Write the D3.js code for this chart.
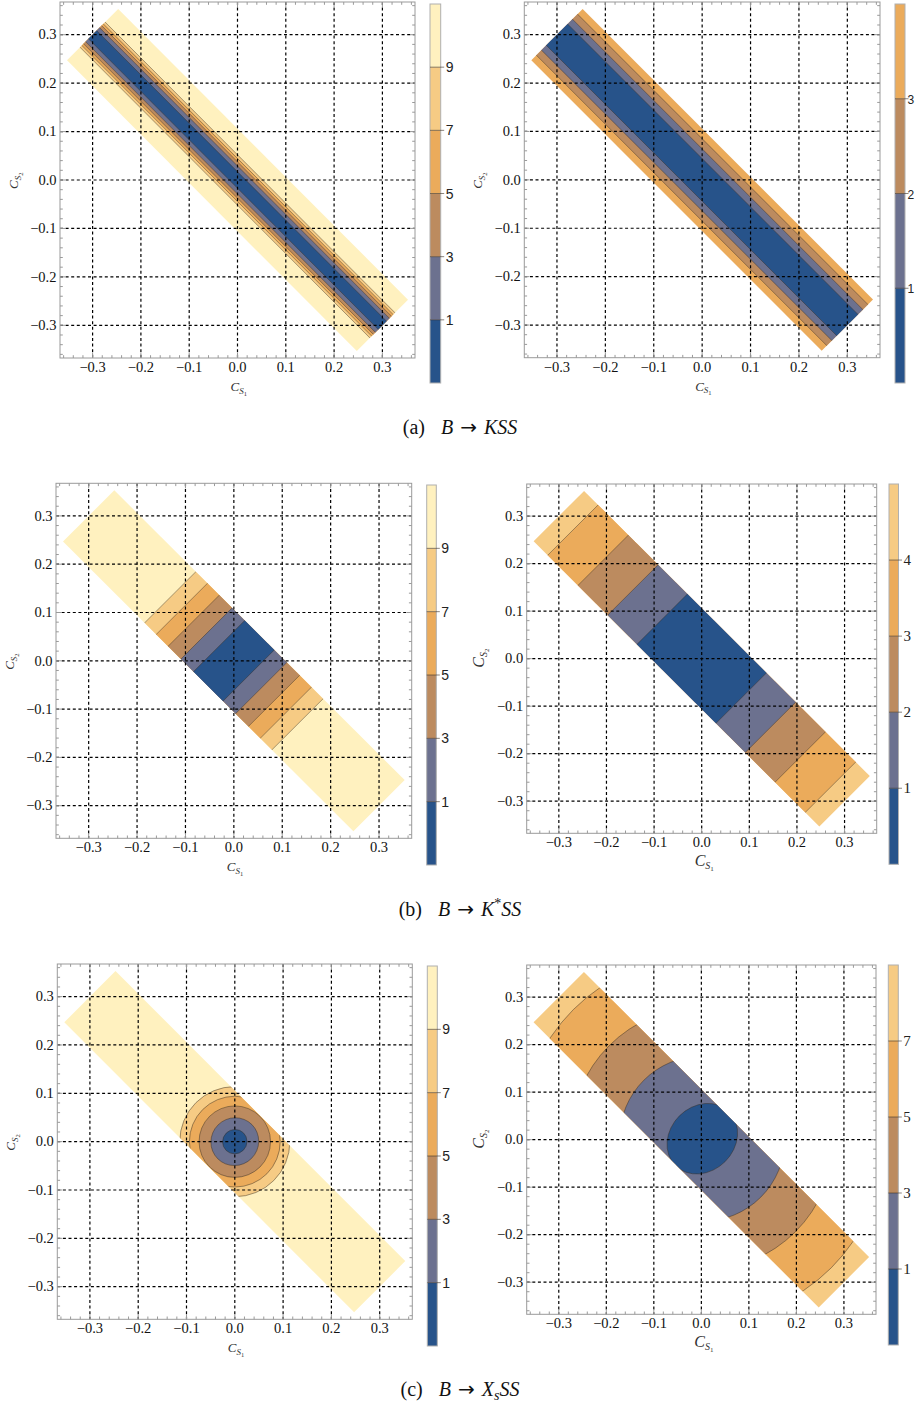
<!DOCTYPE html>
<html><head><meta charset="utf-8">
<script src="https://cdn.jsdelivr.net/npm/d3@7"></script>
<style>body{margin:0;background:#fff}</style>
</head><body>
<svg id="chart" width="915" height="1409" xmlns="http://www.w3.org/2000/svg"></svg>
<script>
// ---------- data ----------
const palette = ["#27538a", "#6c718f", "#bc8b5f", "#ebab5b", "#f6cb84", "#fff1bf"];
const gridTicks = [-0.3, -0.2, -0.1, 0.0, 0.1, 0.2, 0.3];
const tickLabels = ["\u22120.3", "\u22120.2", "\u22120.1", "0.0", "0.1", "0.2", "0.3"];
const domainHalf = 0.3675;
// allowed band: |C_S1 + C_S2| <= bandS, |C_S1 - C_S2| <= bandT
const bandS = 0.106;
const bandT = 0.6;

// (a) B -> KSS : contours are straight lines at |C_S1 + C_S2| = value
const levelsA1 = [1, 3, 5, 7, 9];
const sA1 = [0.017, 0.029, 0.0375, 0.0445, 0.052];
const levelsA2 = [1, 2, 3];
const sA2 = [0.044, 0.064, 0.085];
// (b) B -> K*SS : contours at |C_S1 - C_S2| = value
const levelsB1 = [1, 3, 5, 7, 9];
const tB1 = [0.061, 0.113, 0.166, 0.215, 0.263];
const levelsB2 = [1, 2, 3, 4];
const tB2 = [0.166, 0.289, 0.414, 0.541];
// (c) B -> XsSS : elliptic contours; semi-axes along C_S1=C_S2 (a) and C_S1=-C_S2 (b)
const levelsC1 = [1, 3, 5, 7, 9];
const aC1 = [0.0255, 0.050, 0.074, 0.094, 0.114];
const bC1 = [0.0250, 0.049, 0.074, 0.094, 0.114];
const centerC1 = [0.0, 0.0];
const levelsC2 = [1, 3, 5, 7];
const aC2 = [0.080, 0.174, 0.277, 0.384];
const bC2 = [0.068, 0.174, 0.277, 0.384];
const centerC2 = [0.002, 0.002];

const captionLabels = ["(a)", "(b)", "(c)"];
const captionParticle = ["K", "K", "X"];   // meson symbol
const captionMark = ["", "*", "s"];        // superscript / subscript on it

// ---------- layout ----------
const panels = [
  {frame: [60, 415, 2, 358], bar: [430, 440.7, 4, 383], kind: "s", levels: levelsA1, pos: sA1, barSerif: false, big: false, barFont: 14, labDx: 5},
  {frame: [524.3, 880, 2, 357.7], bar: [895, 905, 4, 383], kind: "s", levels: levelsA2, pos: sA2, barSerif: false, big: false, barFont: 12, labDx: 2.5},
  {frame: [56, 411.7, 483.3, 838.3], bar: [426.7, 436.3, 485, 865], kind: "t", levels: levelsB1, pos: tB1, barSerif: false, big: false, barFont: 14, labDx: 5},
  {frame: [526.7, 876.7, 484, 833.3], bar: [889, 898.5, 484, 864.3], kind: "t", levels: levelsB2, pos: tB2, barSerif: true, big: true, barFont: 15, labDx: 5},
  {frame: [57.3, 412.3, 964, 1319.3], bar: [427.3, 437.3, 966, 1346], kind: "e", levels: levelsC1, a: aC1, b: bC1, c: centerC1, barSerif: false, big: false, barFont: 14, labDx: 5},
  {frame: [526.7, 876, 965, 1314.3], bar: [888.3, 898.3, 965, 1345], kind: "e", levels: levelsC2, a: aC2, b: bC2, c: centerC2, barSerif: true, big: true, barFont: 15, labDx: 5}
];
const captionY = [434, 916, 1396];

const svg = d3.select("#chart");
const defs = svg.append("defs");
const SERIF = "'Liberation Serif', 'DejaVu Serif', serif";
const SANS = "'Liberation Sans', Arial, sans-serif";
const lineColor = "rgba(55,45,35,0.55)";

function cLabel(t, sub, big) {
  const f1 = big ? 16 : 13, f2 = big ? 10 : 9, f3 = big ? 7 : 6.5;
  t.append("tspan").attr("font-style", "italic").attr("font-size", f1).text("C");
  t.append("tspan").attr("font-style", "italic").attr("font-size", f2).attr("dy", big ? 3 : 2.5).text("S");
  t.append("tspan").attr("font-size", f3).attr("dy", 2).text(sub);
}

panels.forEach((p, i) => {
  const g = svg.append("g");
  const [fx0, fx1, fy0, fy1] = p.frame;
  const x = d3.scaleLinear().domain([-domainHalf, domainHalf]).range([fx0, fx1]);
  const y = d3.scaleLinear().domain([-domainHalf, domainHalf]).range([fy1, fy0]);
  const P = (s, t) => [x((s + t) / 2), y((s - t) / 2)];
  const pts = arr => arr.map(d => d.join(",")).join(" ");
  const band = [P(bandS, -bandT), P(bandS, bandT), P(-bandS, bandT), P(-bandS, -bandT)];
  defs.append("clipPath").attr("id", "band" + i).append("polygon").attr("points", pts(band));
  const n = p.levels.length;
  g.append("polygon").attr("points", pts(band)).attr("fill", palette[n]);
  const cg = g.append("g").attr("clip-path", `url(#band${i})`);
  const kpx = x(1) - x(0);
  for (let k = n - 1; k >= 0; k--) {
    if (p.kind === "s") {
      const r = p.pos[k];
      cg.append("polygon").attr("points", pts([P(r, -1), P(r, 1), P(-r, 1), P(-r, -1)])).attr("fill", palette[k]);
    } else if (p.kind === "t") {
      const r = p.pos[k];
      cg.append("polygon").attr("points", pts([P(-1, r), P(1, r), P(1, -r), P(-1, -r)])).attr("fill", palette[k]);
    } else {
      cg.append("ellipse").attr("transform", `translate(${x(p.c[0])},${y(p.c[1])}) rotate(-45)`)
        .attr("rx", p.a[k] * kpx).attr("ry", p.b[k] * kpx).attr("fill", palette[k]);
    }
  }
  // contour lines
  for (let k = 0; k < n; k++) {
    if (p.kind === "s" || p.kind === "t") {
      const r = p.pos[k];
      [r, -r].forEach(v => {
        const a = p.kind === "s" ? P(v, -1) : P(-1, v);
        const b = p.kind === "s" ? P(v, 1) : P(1, v);
        cg.append("line").attr("x1", a[0]).attr("y1", a[1]).attr("x2", b[0]).attr("y2", b[1])
          .attr("stroke", lineColor).attr("stroke-width", 0.8);
      });
    } else {
      cg.append("ellipse").attr("transform", `translate(${x(p.c[0])},${y(p.c[1])}) rotate(-45)`)
        .attr("rx", p.a[k] * kpx).attr("ry", p.b[k] * kpx).attr("fill", "none")
        .attr("stroke", lineColor).attr("stroke-width", 0.8);
    }
  }
  // grid
  gridTicks.forEach(v => {
    g.append("line").attr("x1", x(v)).attr("x2", x(v)).attr("y1", fy0).attr("y2", fy1)
      .attr("stroke", "#000").attr("stroke-width", 1.2).attr("stroke-dasharray", "3,2.6");
    g.append("line").attr("y1", y(v)).attr("y2", y(v)).attr("x1", fx0).attr("x2", fx1)
      .attr("stroke", "#000").attr("stroke-width", 1.2).attr("stroke-dasharray", "3,2.6");
  });
  // frame and ticks
  const tickCol = "#9a9a9a";
  g.append("rect").attr("x", fx0).attr("y", fy0).attr("width", fx1 - fx0).attr("height", fy1 - fy0)
    .attr("fill", "none").attr("stroke", tickCol).attr("stroke-width", 1);
  const minor = d3.range(-36, 37, 2).map(v => v / 100);
  minor.forEach(v => {
    const major = Math.abs(Math.round(v * 100) % 10) === 0;
    const L = major ? 5 : 2.8;
    g.append("line").attr("x1", x(v)).attr("x2", x(v)).attr("y1", fy1).attr("y2", fy1 - L).attr("stroke", tickCol);
    g.append("line").attr("x1", x(v)).attr("x2", x(v)).attr("y1", fy0).attr("y2", fy0 + L).attr("stroke", tickCol);
    g.append("line").attr("y1", y(v)).attr("y2", y(v)).attr("x1", fx0).attr("x2", fx0 + L).attr("stroke", tickCol);
    g.append("line").attr("y1", y(v)).attr("y2", y(v)).attr("x1", fx1).attr("x2", fx1 - L).attr("stroke", tickCol);
  });
  // tick labels
  gridTicks.forEach((v, j) => {
    g.append("text").attr("x", x(v)).attr("y", fy1 + 14).attr("text-anchor", "middle")
      .attr("font-family", SERIF).attr("font-size", 14.5).attr("fill", "#111").text(tickLabels[j]);
    g.append("text").attr("x", fx0 - 3.5).attr("y", y(v) + 4.8).attr("text-anchor", "end")
      .attr("font-family", SERIF).attr("font-size", 14.5).attr("fill", "#111").text(tickLabels[j]);
  });
  // axis labels
  const xl = g.append("text").attr("x", (fx0 + fx1) / 2 - 7).attr("y", fy1 + 33)
    .attr("font-family", SERIF).attr("fill", "#333");
  cLabel(xl, "1", p.big);
  const ycx = fx0 - (p.big ? 43 : 42), ycy = (fy0 + fy1) / 2 + 9;
  const yl = g.append("text").attr("transform", `translate(${ycx},${ycy}) rotate(-90)`)
    .attr("font-family", SERIF).attr("fill", "#333");
  cLabel(yl, "2", p.big);
  // colour bar
  const [bx0, bx1, by0, by1] = p.bar;
  const nb = n + 1;
  const bs = d3.scaleLinear().domain([0, nb]).range([by1, by0]);
  for (let k = 0; k < nb; k++) {
    g.append("rect").attr("x", bx0).attr("width", bx1 - bx0).attr("y", bs(k + 1)).attr("height", bs(k) - bs(k + 1))
      .attr("fill", palette[k]);
  }
  g.append("rect").attr("x", bx0).attr("y", by0).attr("width", bx1 - bx0).attr("height", by1 - by0)
    .attr("fill", "none").attr("stroke", "#b0b0b0").attr("stroke-width", 1);
  p.levels.forEach((lv, k) => {
    const yy = bs(k + 1);
    g.append("line").attr("x1", bx0).attr("x2", bx1 + 3.5).attr("y1", yy).attr("y2", yy)
      .attr("stroke", "rgba(60,50,40,0.6)").attr("stroke-width", 1);
    g.append("text").attr("x", bx1 + p.labDx).attr("y", yy + 5)
      .attr("font-family", p.barSerif ? SERIF : SANS).attr("font-size", p.barFont)
      .attr("fill", "#222").text(lv);
  });
});

// captions:  (x)  B -> K SS
captionLabels.forEach((lab, i) => {
  const t = svg.append("text").attr("x", 460).attr("y", captionY[i]).attr("text-anchor", "middle")
    .attr("font-family", SERIF).attr("font-size", 20).attr("fill", "#111");
  t.append("tspan").text(lab);
  t.append("tspan").attr("dx", 16).attr("font-style", "italic").text("B");
  t.append("tspan").attr("dx", 7).attr("font-family", "'DejaVu Sans', sans-serif").attr("font-size", 20).text("\u2192");
  t.append("tspan").attr("dx", 7).attr("font-style", "italic").text(captionParticle[i]);
  const m = captionMark[i];
  if (m === "*") {
    t.append("tspan").attr("font-size", 14).attr("dy", -8).text("*");
    t.append("tspan").attr("font-style", "italic").attr("dy", 8).text("SS");
  } else if (m === "s") {
    t.append("tspan").attr("font-size", 14).attr("font-style", "italic").attr("dy", 4).text("s");
    t.append("tspan").attr("font-style", "italic").attr("dy", -4).text("SS");
  } else {
    t.append("tspan").attr("font-style", "italic").text("SS");
  }
});
</script>
</body></html>
